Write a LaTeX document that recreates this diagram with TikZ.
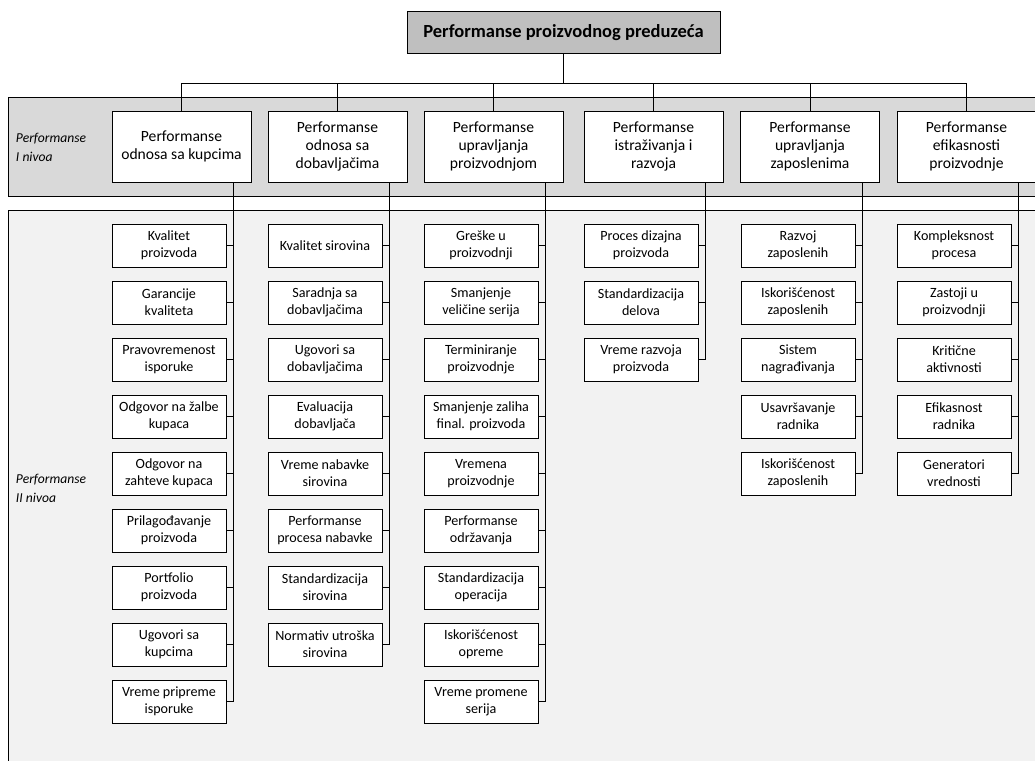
\documentclass[tikz,border=0pt]{standalone}
\usepackage{fontspec}
\setmainfont{Carlito}
\definecolor{topgray}{HTML}{BFBFBF}
\definecolor{bandone}{HTML}{D9D9D9}
\definecolor{bandtwo}{HTML}{F2F2F2}
\begin{document}
\begin{tikzpicture}[x=1pt,y=-1pt,
  every node/.style={inner sep=1pt, outer sep=0pt},
  line/.style={draw=black, line width=0.9pt},
  band/.style={draw=black, line width=1pt},
  topbox/.style={draw=black, line width=1pt, fill=topgray, minimum width=313pt,
    minimum height=42pt, font=\fontsize{18.5}{22}\selectfont\bfseries},
  lvlone/.style={draw=black, line width=1pt, fill=white, minimum width=139pt,
    minimum height=71pt, align=center, font=\fontsize{15.6}{18.2}\selectfont},
  lvltwo/.style={draw=black, line width=1pt, fill=white, minimum width=114pt,
    minimum height=43pt, align=center, font=\fontsize{14.1}{16.8}\selectfont},
  bandlabel/.style={anchor=west, align=left, font=\fontsize{13.6}{19}\selectfont\itshape}
]
\path[use as bounding box] (0,0) rectangle (1035,760);
\clip (0,0) rectangle (1035,760);

% level bands
\path[band, fill=bandone] (8,97) rectangle (1050,196);
\path[band, fill=bandtwo] (8,210) rectangle (1050,780);
\node[bandlabel] (lab1) at (15,147.5) {Performanse\\I nivoa};
\node[bandlabel] (lab2) at (15,488) {Performanse\\II nivoa};

% root
\node[topbox] (root) at (563.5,33) {Performanse proizvodnog preduzeća};

% first level
\node[lvlone] (A) at (181.5,146.5) {Performanse\\odnosa sa kupcima};
\node[lvlone] (B) at (337.5,146.5) {Performanse\\odnosa sa\\dobavljačima};
\node[lvlone] (C) at (493.5,146.5) {Performanse\\upravljanja\\proizvodnjom};
\node[lvlone] (D) at (653.5,146.5) {Performanse\\istraživanja i\\razvoja};
\node[lvlone] (E) at (810,146.5) {Performanse\\upravljanja\\zaposlenima};
\node[lvlone] (F) at (966.5,146.5) {Performanse\\efikasnosti\\proizvodnje};

% bus from the root to the first level
\coordinate (bus) at (563.5,83);
\draw[line] (root.south) -- (bus);
\draw[line] (A.north) -- (A.north |- bus) -- (F.north |- bus) -- (F.north);
\foreach \n in {B,C,D,E}
  \draw[line] (\n.north) -- (\n.north |- bus);

% second level columns
\foreach \t [count=\i] in {{Kvalitet\\proizvoda},{Garancije\\kvaliteta},
  {Pravovremenost\\isporuke},{Odgovor na žalbe\\kupaca},{Odgovor na\\zahteve kupaca},
  {Prilagođavanje\\proizvoda},{Portfolio\\proizvoda},{Ugovori sa\\kupcima},
  {Vreme pripreme\\isporuke}}
  \node[lvltwo] (a\i) at (169,245.5+57*\i-57) {\t};
\foreach \t [count=\i] in {{Kvalitet sirovina},{Saradnja sa\\dobavljačima},
  {Ugovori sa\\dobavljačima},{Evaluacija\\dobavljača},{Vreme nabavke\\sirovina},
  {Performanse\\procesa nabavke},{Standardizacija\\sirovina},{Normativ utroška\\sirovina}}
  \node[lvltwo] (b\i) at (325,245.5+57*\i-57) {\t};
\foreach \t [count=\i] in {{Greške u\\proizvodnji},{Smanjenje\\veličine serija},
  {Terminiranje\\proizvodnje},{Smanjenje zaliha\\final. proizvoda},{Vremena\\proizvodnje},
  {Performanse\\održavanja},{Standardizacija\\operacija},{Iskorišćenost\\opreme},
  {Vreme promene\\serija}}
  \node[lvltwo] (c\i) at (481,245.5+57*\i-57) {\t};
\foreach \t [count=\i] in {{Proces dizajna\\proizvoda},{Standardizacija\\delova},
  {Vreme razvoja\\proizvoda}}
  \node[lvltwo] (d\i) at (641,245.5+57*\i-57) {\t};
\foreach \t [count=\i] in {{Razvoj\\zaposlenih},{Iskorišćenost\\zaposlenih},
  {Sistem\\nagrađivanja},{Usavršavanje\\radnika},{Iskorišćenost\\zaposlenih}}
  \node[lvltwo] (e\i) at (798,245.5+57*\i-57) {\t};
\foreach \t [count=\i] in {{Kompleksnost\\procesa},{Zastoji u\\proizvodnji},
  {Kritične\\aktivnosti},{Efikasnost\\radnika},{Generatori\\vrednosti}}
  \node[lvltwo] (f\i) at (954,245.5+57*\i-57) {\t};

% spines and stubs
\foreach \p/\c/\n in {A/a/9,B/b/8,C/c/9,D/d/3,E/e/5,F/f/5}{
  \coordinate (s\c) at ([xshift=121.5pt]\p.south west);
  \draw[line] (s\c) -- (s\c |- \c\n.east);
  \foreach \i in {1,...,\n}
    \draw[line] (\c\i.east) -- (\c\i.east -| s\c);
}
\end{tikzpicture}
\end{document}
